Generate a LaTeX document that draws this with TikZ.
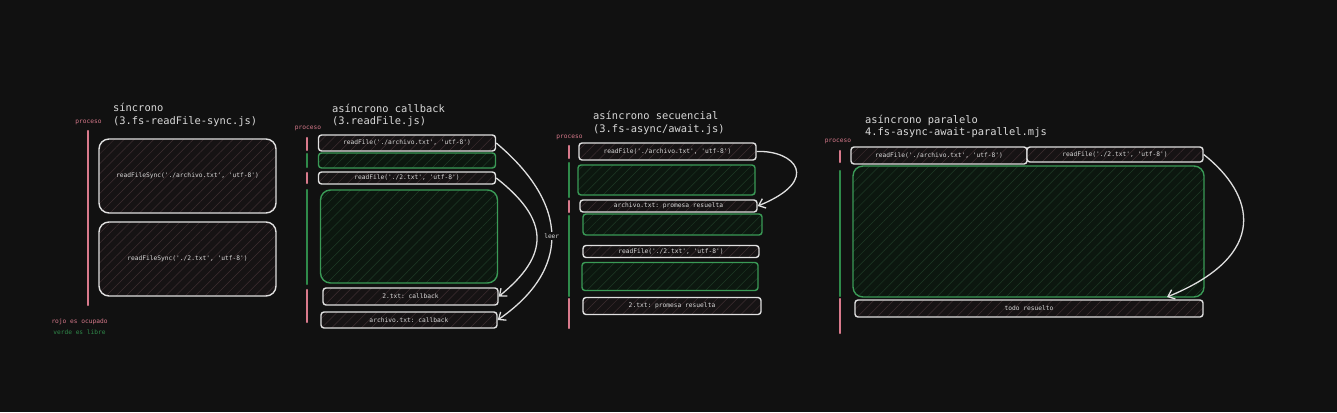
\documentclass[tikz,border=0pt]{standalone}
\usepackage{fontspec}
\setmonofont{DejaVu Sans Mono}
\usetikzlibrary{patterns.meta}
\usetikzlibrary{arrows.meta}
\definecolor{bg}{HTML}{111111}
\definecolor{ink}{HTML}{DADADA}
\definecolor{edge}{HTML}{E0E0E0}
\definecolor{busyline}{HTML}{D97A8C}
\definecolor{freeline}{HTML}{2F8A4A}
\definecolor{freeedge}{HTML}{3A9A56}
\definecolor{busyhatch}{HTML}{3E2E31}
\definecolor{freehatch}{HTML}{1E3A26}
\definecolor{busyfill}{HTML}{161314}
\definecolor{freefill}{HTML}{0C170F}

\begin{document}
\begin{tikzpicture}[x=1pt,y=-1pt,
  busy/.style={draw=edge,line width=1.4pt,rounded corners=3pt,inner sep=0pt,text=ink,
    font=\fontsize{6.25}{7}\selectfont\ttfamily,preaction={fill=busyfill},
    pattern={Lines[angle=45,distance=7pt,line width=0.5pt]},pattern color=busyhatch},
  free/.style={draw=freeedge,line width=1.4pt,rounded corners=3pt,inner sep=0pt,
    preaction={fill=freefill},
    pattern={Lines[angle=45,distance=7pt,line width=0.5pt]},pattern color=freehatch},
  big/.style={rounded corners=10pt},
  title/.style={anchor=west,align=left,inner sep=0pt,text=ink,font=\fontsize{10.4}{12.5}\selectfont\ttfamily},
  tag/.style={inner sep=0pt,font=\fontsize{6.2}{7}\selectfont\ttfamily},
  busybar/.style={busyline,line width=2.4pt,line cap=round},
  freebar/.style={freeline,line width=2.4pt,line cap=round},
  flow/.style={edge,line width=1.3pt,-{Straight Barb[length=6pt,width=10pt]}}]
\useasboundingbox (0,0) rectangle (1337,412);
\fill[bg] (0,0) rectangle (1337,412);

% sincrono
\node[title] (t1) at (113,115) {síncrono\\(3.fs-readFile-sync.js)};
\node[tag,text=busyline] (p1) at (88.5,122) {proceso};
\draw[busybar] (88,131) -- (88,305);
\node[busy,big,minimum width=177pt,minimum height=74pt] (s1) at (187.5,176) {readFileSync('./archivo.txt', 'utf-8')};
\node[busy,big,minimum width=177pt,minimum height=74pt] (s2) at (187.5,259) {readFileSync('./2.txt', 'utf-8')};
\node[tag,text=busyline] (k1) at (79.5,321.5) {rojo es ocupado};
\node[tag,text=freeline] (k2) at (79.5,332.5) {verde es libre};

% asincrono callback
\node[title] (t2) at (332,115.5) {asíncrono callback\\(3.readFile.js)};
\node[tag,text=busyline] (p2) at (308,128) {proceso};
\draw[busybar] (307,138) -- (307,150);
\draw[freebar] (307,154) -- (307,167);
\draw[busybar] (307,173) -- (307,183);
\draw[freebar] (307,190) -- (307,284);
\draw[busybar] (307,290) -- (307,322);
\node[busy,minimum width=177pt,minimum height=16pt] (cb1) at (407,143) {readFile('./archivo.txt', 'utf-8')};
\node[free,minimum width=177pt,minimum height=15pt] (cg1) at (407,160.5) {};
\node[busy,minimum width=177pt,minimum height=12pt] (cb2) at (407,178) {readFile('./2.txt', 'utf-8')};
\node[free,big,minimum width=177pt,minimum height=93pt] (cg2) at (409,236.5) {};
\node[busy,minimum width=175pt,minimum height=17pt] (cb3) at (410.5,296.5) {2.txt: callback};
\node[busy,minimum width=176pt,minimum height=16pt] (cb4) at (409,320) {archivo.txt: callback};
\draw[flow] (cb1.east) .. controls (570,205) and (570,270) .. (cb4.east)
  node[pos=0.5,tag,fill=bg,inner sep=1.5pt,text=ink] (lr) {leer};
\draw[flow] (cb2.east) .. controls (550,220) and (550,255) .. (cb3.east);

% asincrono secuencial
\node[title] (t3) at (593,123) {asíncrono secuencial\\(3.fs-async/await.js)};
\node[tag,text=busyline] (p3) at (569.5,137) {proceso};
\draw[busybar] (569,146) -- (569,158);
\draw[freebar] (569,163) -- (569,197);
\draw[busybar] (569,201) -- (569,212);
\draw[freebar] (569,216) -- (569,296);
\draw[busybar] (569,299) -- (569,328);
\node[busy,minimum width=177pt,minimum height=17pt] (sb1) at (667.5,151.5) {readFile('./archivo.txt', 'utf-8')};
\node[free,minimum width=177pt,minimum height=30pt] (sg1) at (666.5,180) {};
\node[busy,minimum width=177pt,minimum height=12pt] (sb2) at (668.5,206) {archivo.txt: promesa resuelta};
\node[free,minimum width=179pt,minimum height=21pt] (sg2) at (672.5,224.5) {};
\node[busy,minimum width=176pt,minimum height=12pt] (sb3) at (671,251.5) {readFile('./2.txt', 'utf-8')};
\node[free,minimum width=176pt,minimum height=28pt] (sg3) at (670,276.5) {};
\node[busy,minimum width=178pt,minimum height=17pt] (sb4) at (672,306) {2.txt: promesa resuelta};
\draw[flow] (sb1.east) .. controls (795,150) and (822,180) .. (sb2.east);

% asincrono paralelo
\node[title] (t4) at (865,126.5) {asíncrono paralelo\\4.fs-async-await-parallel.mjs};
\node[tag,text=busyline] (p4) at (838,141) {proceso};
\draw[busybar] (840,151) -- (840,162);
\draw[freebar] (840,171) -- (840,296);
\draw[busybar] (840,299) -- (840,333);
\node[busy,minimum width=176pt,minimum height=17pt] (pb1) at (939,155.5) {readFile('./archivo.txt', 'utf-8')};
\node[busy,minimum width=176pt,minimum height=15pt] (pb2) at (1115,154.5) {readFile('./2.txt', 'utf-8')};
\node[free,big,minimum width=351pt,minimum height=131pt] (pg) at (1028.5,231.5) {};
\node[busy,minimum width=348pt,minimum height=17pt] (pb3) at (1029,308.5) {todo resuelto};
\coordinate (pend) at (1167,297);
\draw[flow] (pb2.east) .. controls (1255,195) and (1270,255) .. (pend);

\end{tikzpicture}
\end{document}
